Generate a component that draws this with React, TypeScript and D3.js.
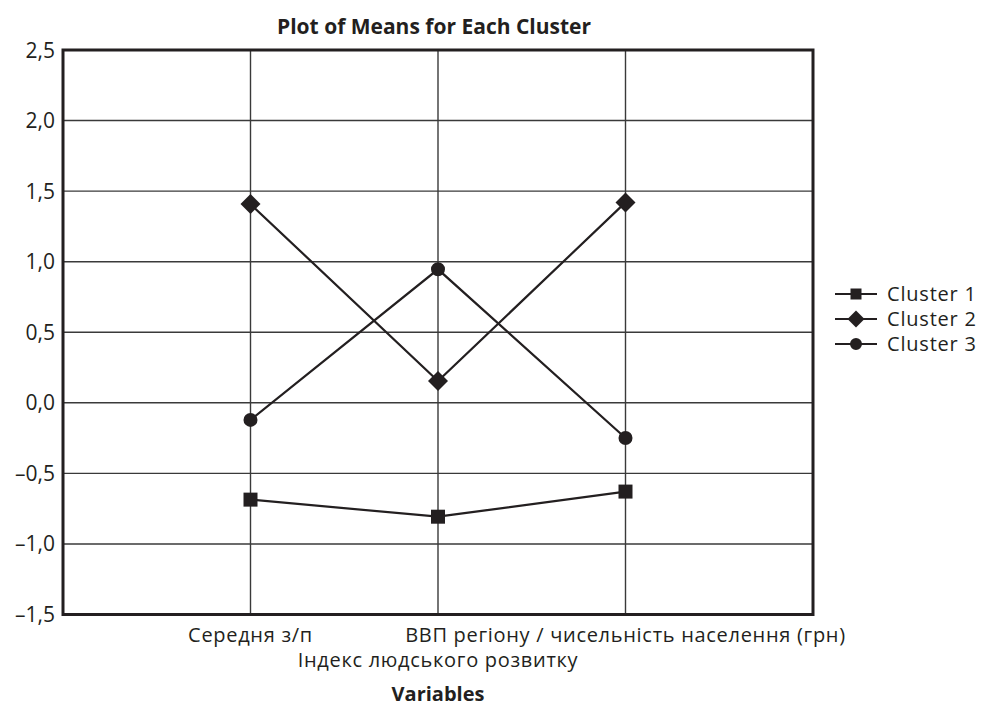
import React from "react";
import * as d3 from "d3";

const categories = ["Середня з/п", "Індекс людського розвитку", "ВВП регіону / чисельність населення (грн)"];
const categoryRow = [0, 1, 0];
const seriesNames = ["Cluster 1", "Cluster 2", "Cluster 3"];
const cluster1 = [-0.686, -0.807, -0.629];
const cluster2 = [1.408, 0.154, 1.42];
const cluster3 = [-0.121, 0.946, -0.249];
const yTicks = [-1.5, -1.0, -0.5, 0.0, 0.5, 1.0, 1.5, 2.0, 2.5];
const title = "Plot of Means for Each Cluster";
const xTitle = "Variables";

const W = 982;
const H = 708;
const left = 63;
const right = 813;
const top = 50;
const bottom = 614.5;
const FONT = "'Open Sans', 'DejaVu Sans', sans-serif";
const INK = "#231f20";

const seriesData = [cluster1, cluster2, cluster3];
const symbols = [
  { type: d3.symbolSquare, size: 196, legendSize: 121, rotate: 0 },
  { type: d3.symbolSquare, size: 200, legendSize: 144, rotate: 45 },
  { type: d3.symbolCircle, size: 154, legendSize: 113, rotate: 0 },
];

const fmt = (v: number) => {
  const s = Math.abs(v).toFixed(1).replace(".", ",");
  return v < 0 ? "–" + s : s;
};

export default function App() {
  const x = d3.scaleLinear().domain([0, 4]).range([left, right]);
  const y = d3.scaleLinear().domain([-1.5, 2.5]).range([bottom, top]);
  const line = d3
    .line<number>()
    .x((_, i) => x(i + 1))
    .y((d) => y(d));

  const gridY = yTicks.filter((t) => t > -1.5 && t < 2.5);
  const legendY = [294, 319, 344];

  return (
    <svg width={W} height={H} style={{ position: "absolute", left: 0, top: 0, background: "#fff" }}>
      <rect x={0} y={0} width={W} height={H} fill="#fff" />
      <text x={434} y={34} textAnchor="middle" fontFamily={FONT} fontWeight="bold" fontSize={21} fill={INK}>
        {title}
      </text>
      {gridY.map((t) => (
        <line key={"gy" + t} x1={left} x2={right} y1={y(t)} y2={y(t)} stroke="#3a3a3a" strokeWidth={1.4} />
      ))}
      {categories.map((c, i) => (
        <line key={"gx" + i} x1={x(i + 1)} x2={x(i + 1)} y1={top} y2={bottom} stroke="#3a3a3a" strokeWidth={1.4} />
      ))}
      <rect x={left} y={top} width={right - left} height={bottom - top} fill="none" stroke={INK} strokeWidth={3} />
      {yTicks.map((t) => (
        <text key={"yt" + t} x={55} y={y(t) + 7.5} textAnchor="end" fontFamily={FONT} fontSize={21} fill={INK}>
          {fmt(t)}
        </text>
      ))}
      {categories.map((c, i) => (
        <text
          key={"xl" + i}
          x={x(i + 1)}
          y={642 + categoryRow[i] * 25}
          textAnchor="middle"
          fontFamily={FONT}
          fontSize={20}
          letterSpacing={0.7}
          fill={INK}
        >
          {c}
        </text>
      ))}
      <text x={x(2)} y={701} textAnchor="middle" fontFamily={FONT} fontWeight="bold" fontSize={20} fill={INK}>
        {xTitle}
      </text>
      {seriesData.map((s, si) => (
        <g key={"s" + si}>
          <path d={line(s) || ""} fill="none" stroke={INK} strokeWidth={2.2} />
          {s.map((v, i) => (
            <path
              key={"m" + i}
              d={d3.symbol().type(symbols[si].type).size(symbols[si].size)() || ""}
              transform={`translate(${x(i + 1)},${y(v)}) rotate(${symbols[si].rotate})`}
              fill={INK}
            />
          ))}
        </g>
      ))}
      {seriesNames.map((n, i) => (
        <g key={"lg" + i}>
          <line x1={835} x2={877} y1={legendY[i]} y2={legendY[i]} stroke={INK} strokeWidth={2.2} />
          <path
            d={d3.symbol().type(symbols[i].type).size(symbols[i].legendSize)() || ""}
            transform={`translate(856,${legendY[i]}) rotate(${symbols[i].rotate})`}
            fill={INK}
          />
          <text x={887} y={legendY[i] + 7} fontFamily={FONT} fontSize={20} letterSpacing={0.8} fill={INK}>
            {n}
          </text>
        </g>
      ))}
    </svg>
  );
}
